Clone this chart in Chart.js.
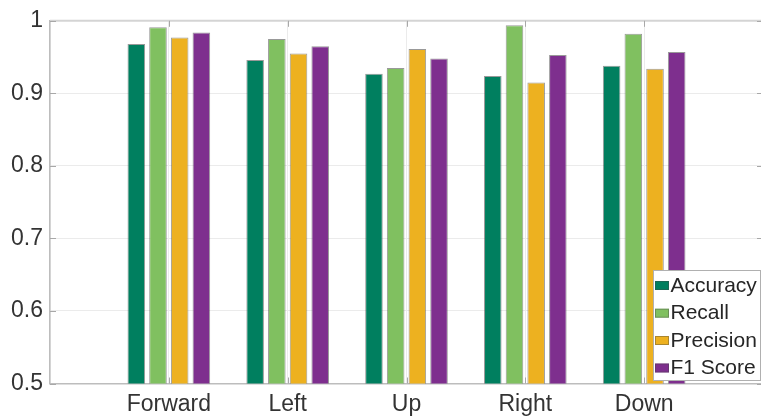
<!DOCTYPE html>
<html>
<head>
<meta charset="utf-8">
<script src="https://cdn.jsdelivr.net/npm/chart.js@4.4.1/dist/chart.umd.min.js"></script>
<style>
  html, body { margin: 0; padding: 0; background: #fff; overflow: hidden; width: 761px; height: 420px; }
  #c { display: block; }
</style>
</head>
<body>
<canvas id="c" width="770" height="420"></canvas>
<script>
// ---- data ----
const categories = ['Forward', 'Left', 'Up', 'Right', 'Down'];
const accuracy  = [0.968, 0.946, 0.927, 0.924, 0.938];
const recall    = [0.991, 0.975, 0.935, 0.994, 0.982];
const precision = [0.977, 0.955, 0.961, 0.915, 0.934];
const f1score   = [0.984, 0.965, 0.948, 0.953, 0.957];
const seriesNames = ['Accuracy', 'Recall', 'Precision', 'F1 Score'];
const yTickLabels = ['0.5', '0.6', '0.7', '0.8', '0.9', '1'];

const colors = ['#007F5F', '#80C060', '#EDB120', '#7E2F8E'];
const FONT = '"Liberation Sans", Arial, Helvetica, sans-serif';

// x axis spans 0..6 with categories at 1..5 (empty slots at both ends)
const labels = [''].concat(categories, ['']);
const pad = arr => [null].concat(arr, [null]);
const seriesValues = [accuracy, recall, precision, f1score];

const datasets = seriesValues.map((vals, i) => ({
  label: seriesNames[i],
  data: pad(vals),
  backgroundColor: colors[i],
  borderColor: 'rgba(70,70,70,0.55)',
  borderWidth: 1,
  borderSkipped: 'bottom',
  categoryPercentage: 0.73,
  barPercentage: 0.81
}));

const matlabBox = {
  id: 'matlabBox',
  afterDraw(chart) {
    const ctx = chart.ctx;
    const a = chart.chartArea;
    const xs = chart.scales.x, ys = chart.scales.y;
    ctx.save();
    // top border
    ctx.strokeStyle = '#d4d4d4';
    ctx.lineWidth = 2;
    ctx.beginPath();
    ctx.moveTo(a.left, a.top); ctx.lineTo(a.right, a.top);
    ctx.stroke();
    // right border
    ctx.beginPath();
    ctx.moveTo(a.right, a.top); ctx.lineTo(a.right, a.bottom);
    ctx.stroke();
    // inward ticks
    ctx.strokeStyle = '#a8a8a8';
    ctx.lineWidth = 1;
    const tl = 6;
    for (let i = 1; i <= categories.length; i++) {
      const px = Math.round(xs.getPixelForValue(i)) + 0.5;
      ctx.beginPath();
      ctx.moveTo(px, a.top); ctx.lineTo(px, a.top + tl);
      ctx.moveTo(px, a.bottom); ctx.lineTo(px, a.bottom - tl);
      ctx.stroke();
    }
    ys.ticks.forEach(t => {
      const py = Math.round(ys.getPixelForValue(t.value)) + 0.5;
      ctx.beginPath();
      ctx.moveTo(a.left, py); ctx.lineTo(a.left + tl, py);
      ctx.moveTo(a.right, py); ctx.lineTo(a.right - tl, py);
      ctx.stroke();
    });
    // legend (south-east inside the axes)
    const L = { x: 653.5, y: 270.5, w: 107, h: 110 };
    ctx.fillStyle = '#ffffff';
    ctx.fillRect(L.x, L.y, L.w, L.h);
    ctx.strokeStyle = '#b0b0b0';
    ctx.lineWidth = 1;
    ctx.strokeRect(L.x, L.y, L.w, L.h);
    const rows = [285, 312.7, 340, 367.5];
    ctx.font = '21px ' + FONT;
    ctx.textBaseline = 'middle';
    ctx.textAlign = 'left';
    chart.data.datasets.forEach((ds, i) => {
      const cy = rows[i];
      ctx.fillStyle = ds.backgroundColor;
      ctx.fillRect(655, cy - 4, 14, 9);
      ctx.strokeStyle = 'rgba(70,70,70,0.4)';
      ctx.strokeRect(655.5, cy - 3.5, 13, 8);
      ctx.fillStyle = '#262626';
      ctx.fillText(ds.label, 670.5, cy + 1);
    });
    ctx.restore();
  }
};

new Chart(document.getElementById('c'), {
  type: 'bar',
  data: { labels, datasets },
  options: {
    responsive: false,
    animation: false,
    devicePixelRatio: 1,
    layout: { padding: { top: 20, right: 5, left: 0, bottom: 0 } },
    plugins: {
      legend: { display: false },
      tooltip: { enabled: false }
    },
    scales: {
      x: {
        type: 'category',
        offset: false,
        grid: { color: '#ebebeb', lineWidth: 1, drawTicks: false, offset: false },
        border: { display: true, color: '#bdbdbd', width: 1.5 },
        ticks: {
          font: { family: FONT, size: 23 },
          color: '#333333',
          padding: 7,
          maxRotation: 0,
          autoSkip: false
        },
        afterFit(s) { s.height = 36.5; }
      },
      y: {
        min: 0.5,
        max: 1,
        grid: { color: '#ebebeb', lineWidth: 1, drawTicks: false },
        border: { display: true, color: '#bdbdbd', width: 1.5 },
        ticks: {
          stepSize: 0.1,
          font: { family: FONT, size: 23 },
          color: '#333333',
          padding: 7,
          callback: (v) => {
            const idx = Math.round((v - 0.5) * 10);
            return yTickLabels[idx] !== undefined ? yTickLabels[idx] : '';
          }
        },
        afterFit(s) { s.width = 50; }
      }
    }
  },
  plugins: [matlabBox]
});
</script>
</body>
</html>
